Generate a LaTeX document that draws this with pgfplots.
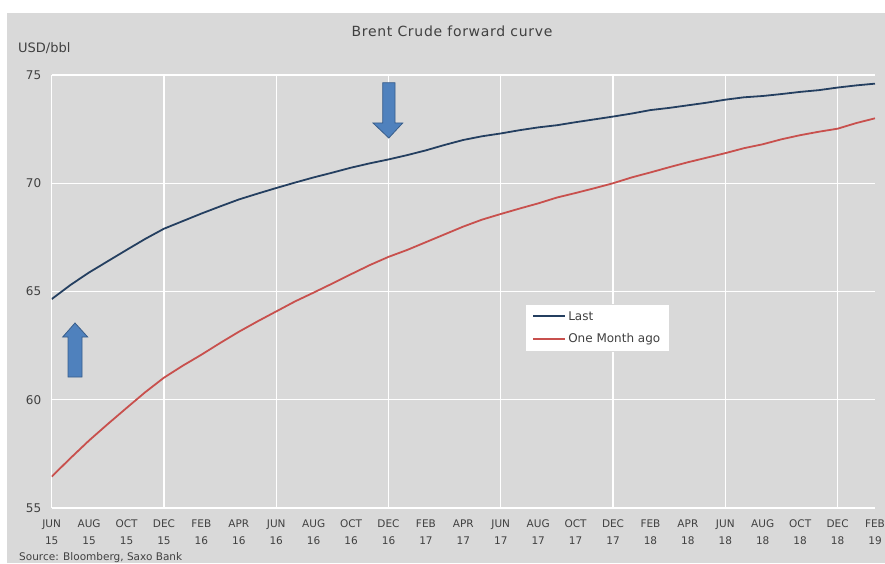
\documentclass[border=0pt]{standalone}
\usepackage{pgfplots}
\pgfplotsset{compat=1.18}
\usepackage{fontspec}
\setmainfont{DejaVu Sans}
\newfontfamily\titlefont{DejaVu Sans}[LetterSpace=5]
\definecolor{bgc}{HTML}{D9D9D9}
\definecolor{lastc}{HTML}{243F60}
\definecolor{prevc}{HTML}{C8504D}
\definecolor{txt}{HTML}{404040}
\definecolor{arrf}{HTML}{4F81BD}
\definecolor{arrd}{HTML}{385D8A}
\begin{document}
\begin{tikzpicture}
\useasboundingbox (0pt,0pt) rectangle (885pt,563pt);
\fill[white] (0pt,0pt) rectangle (885pt,563pt);
\fill[bgc] (7pt,0pt) rectangle (885pt,550pt);
\begin{axis}[
  at={(51.7pt,55pt)}, anchor=south west,
  scale only axis, width=823.3pt, height=433pt,
  xmin=0, xmax=44, ymin=55, ymax=75,
  axis x line*=bottom, axis y line*=left,
  axis line style={white, line width=1.1pt, -},
  xtick={0,2,...,44},
  xticklabels={JUN\\15, AUG\\15, OCT\\15, DEC\\15, FEB\\16, APR\\16, JUN\\16, AUG\\16, OCT\\16, DEC\\16, FEB\\17, APR\\17, JUN\\17, AUG\\17, OCT\\17, DEC\\17, FEB\\18, APR\\18, JUN\\18, AUG\\18, OCT\\18, DEC\\18, FEB\\19},
  xticklabel style={align=center, font=\fontsize{10.5}{17}\selectfont, text=txt, yshift=-8pt},
  extra x ticks={6,12,...,42},
  extra x tick labels={},
  extra x tick style={grid=major},
  ytick={55,60,65,70,75},
  ymajorgrids,
  yticklabel style={font=\fontsize{12}{14}\selectfont, text=txt, xshift=-7pt},
  /pgf/number format/assume math mode=true,
  major tick length=0pt,
  grid style={white, line width=1.1pt},
  legend style={at={(0.575,0.471)}, anchor=north west, fill=white, draw=black!15,
    font=\fontsize{12}{14}\selectfont, text=txt, inner xsep=7pt, inner ysep=5pt,
    row sep=8pt, legend cell align=left},
  legend image code/.code={\draw[#1, line width=2pt] (0pt,0pt) -- (32pt,0pt);},
]
\addplot[lastc, line width=1.8pt] coordinates {
(0,64.65) (1,65.30) (2,65.88) (3,66.40) (4,66.92) (5,67.43) (6,67.90) (7,68.25) (8,68.60) (9,68.93)
(10,69.25) (11,69.52) (12,69.78) (13,70.03) (14,70.27) (15,70.49) (16,70.72) (17,70.92) (18,71.10) (19,71.30)
(20,71.52) (21,71.77) (22,72.00) (23,72.17) (24,72.30) (25,72.45) (26,72.58) (27,72.68) (28,72.82) (29,72.95)
(30,73.08) (31,73.22) (32,73.38) (33,73.48) (34,73.60) (35,73.72) (36,73.86) (37,73.97) (38,74.03) (39,74.12)
(40,74.22) (41,74.30) (42,74.42) (43,74.52) (44,74.60)};
\addlegendentry{Last}
\addplot[prevc, line width=1.8pt] coordinates {
(0,56.45) (1,57.30) (2,58.12) (3,58.88) (4,59.62) (5,60.35) (6,61.02) (7,61.57) (8,62.08) (9,62.62)
(10,63.14) (11,63.62) (12,64.08) (13,64.54) (14,64.95) (15,65.37) (16,65.80) (17,66.22) (18,66.60) (19,66.92)
(20,67.28) (21,67.64) (22,68.00) (23,68.32) (24,68.58) (25,68.83) (26,69.07) (27,69.34) (28,69.55) (29,69.77)
(30,70.00) (31,70.27) (32,70.50) (33,70.74) (34,70.97) (35,71.18) (36,71.39) (37,71.62) (38,71.80) (39,72.03)
(40,72.22) (41,72.38) (42,72.52) (43,72.78) (44,73.00)};
\addlegendentry{One Month ago}
\end{axis}
\node[anchor=center, text=txt, font=\titlefont\fontsize{14}{16}\selectfont] at (452pt,532pt) {Brent Crude forward curve};
\node[anchor=west, text=txt, font=\fontsize{13}{15}\selectfont, inner sep=0pt] at (18pt,515pt) {USD/bbl};
\node[anchor=base west, text=txt, font=\fontsize{10.5}{12}\selectfont, inner sep=0pt] at (19pt,3pt) {Source: Bloomberg, Saxo Bank};
% up arrow
\filldraw[fill=arrf, draw=arrd, line width=0.8pt]
  (68pt,186pt) -- (82pt,186pt) -- (82pt,226pt) -- (87.7pt,226pt) -- (75pt,240pt) -- (62.7pt,226pt) -- (68pt,226pt) -- cycle;
% down arrow
\filldraw[fill=arrf, draw=arrd, line width=0.8pt]
  (382.7pt,480.3pt) -- (395pt,480.3pt) -- (395pt,440pt) -- (402.7pt,440pt) -- (388.8pt,425pt) -- (373pt,440pt) -- (382.7pt,440pt) -- cycle;
\end{tikzpicture}
\end{document}
